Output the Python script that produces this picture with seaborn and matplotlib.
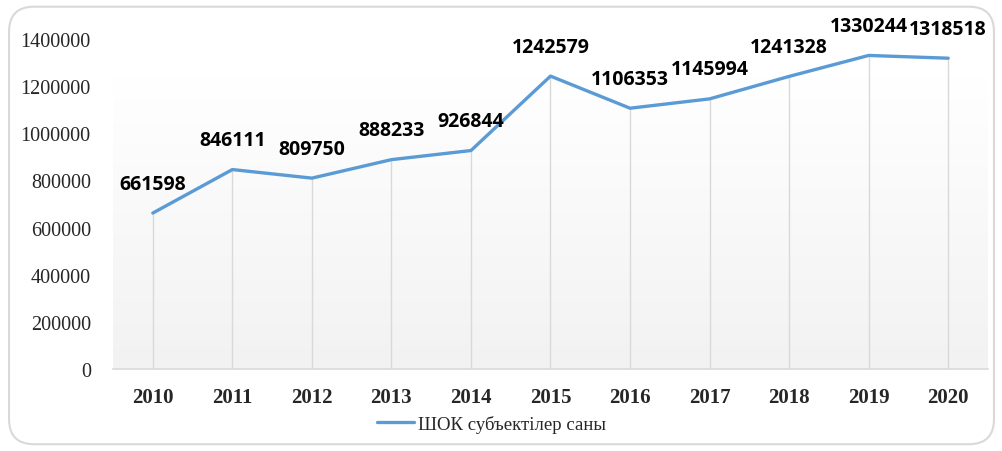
import numpy as np
import pandas as pd
import matplotlib.pyplot as plt
import seaborn as sns
from matplotlib.patches import FancyBboxPatch

years = ["2010", "2011", "2012", "2013", "2014", "2015", "2016", "2017", "2018", "2019", "2020"]
counts = [661598, 846111, 809750, 888233, 926844, 1242579, 1106353, 1145994, 1241328, 1330244, 1318518]
series_name = "ШОК субъектілер саны"
y_ticks = [0, 200000, 400000, 600000, 800000, 1000000, 1200000, 1400000]

df = pd.DataFrame({"year": years, "count": counts})
df["pos"] = range(len(df))

sns.set_style("white")
plt.rcParams["font.family"] = ["Liberation Serif", "DejaVu Serif"]

fig = plt.figure(figsize=(10.03, 4.52), dpi=100)
ax = fig.add_axes([0.1127, 0.1814, 0.8723, 0.7301])

# rounded outer frame
frame = FancyBboxPatch((0.009, 0.015), 0.982, 0.968, boxstyle="round,pad=0,rounding_size=0.025",
                       transform=fig.transFigure, fill=False, edgecolor="#d9d9d9", linewidth=1.5,
                       mutation_aspect=1003 / 452)
fig.patches.append(frame)

# gradient plot area
grad = np.linspace(0, 1, 256).reshape(-1, 1)
ax.imshow(grad, extent=(-0.5, len(years) - 0.5, 0, 1240000), origin="lower", aspect="auto",
          cmap=plt.matplotlib.colors.LinearSegmentedColormap.from_list("g", ["#f2f2f2", "#ffffff"]),
          zorder=0)

# drop lines
ax.vlines(df["pos"], 0, df["count"], color="#d9d9d9", linewidth=1, zorder=1)

sns.lineplot(data=df, x="pos", y="count", color="#5b9bd5", linewidth=2.4, label=series_name,
             ax=ax, zorder=3)

for p, v in zip(df["pos"], df["count"]):
    ax.annotate(str(v), (p, v), xytext=(0, 14), textcoords="offset points", ha="center",
                va="bottom", fontsize=14, fontweight="bold", family="Open Sans", color="#000000")

ax.set_xlim(-0.5, len(years) - 0.5)
ax.set_ylim(0, 1400000)
ax.set_xticks(df["pos"])
ax.set_xticklabels(years, fontsize=15, fontweight="bold")
ax.set_yticks(y_ticks)
ax.set_yticklabels([str(t) for t in y_ticks], fontsize=14.5)
ax.tick_params(axis="x", length=0, pad=13)
ax.tick_params(axis="y", length=0, pad=16)
ax.set_xlabel("")
ax.set_ylabel("")
for s in ["top", "right", "left"]:
    ax.spines[s].set_visible(False)
ax.spines["bottom"].set_color("#d9d9d9")
ax.spines["bottom"].set_linewidth(1.2)
ax.patch.set_alpha(0)

ax.legend(loc="center", bbox_to_anchor=(0.49, 1 - 425 / 452), bbox_transform=fig.transFigure,
          frameon=False, fontsize=13.5, handlelength=2.0, handletextpad=0.2)

fig.savefig("out.png", dpi=100)
